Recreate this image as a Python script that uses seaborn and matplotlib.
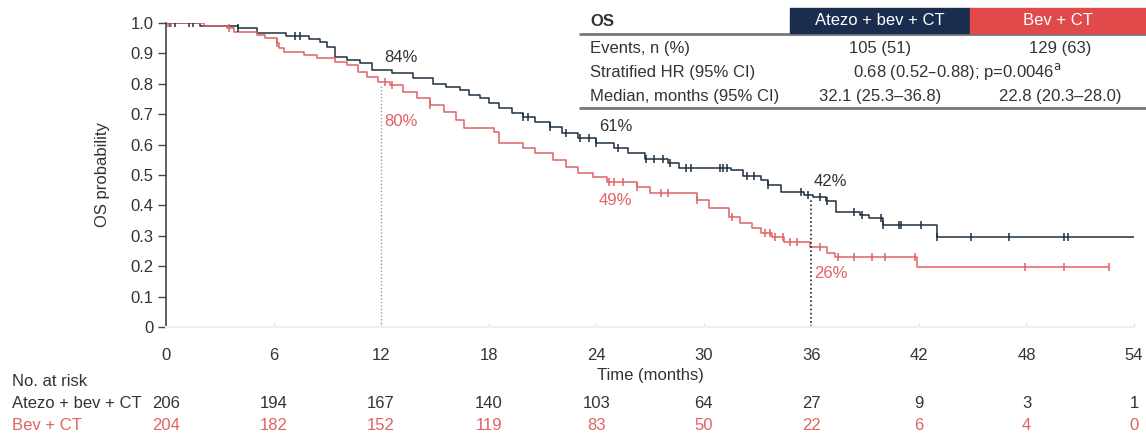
import numpy as np
import pandas as pd
import matplotlib
matplotlib.use("Agg")
import matplotlib.pyplot as plt
from matplotlib.patches import Rectangle
from matplotlib.lines import Line2D
import matplotlib.transforms as mtransforms
import seaborn as sns

# ---- Kaplan-Meier step data (time in months, survival probability) ----
atezo_times = [0, 1.9, 4.0, 5.1, 6.7, 8.0, 8.6, 9.0, 9.4, 10.1, 10.8, 11.5, 12.6,
               13.8, 14.9, 15.6, 16.4, 16.9, 17.5, 18.0, 18.6, 19.3, 19.9, 20.6,
               21.4, 22.1, 23.0, 24.0, 25.0, 25.8, 26.7, 28.0, 28.6, 31.5, 32.2,
               33.2, 33.6, 34.3, 35.6, 36.1, 36.8, 37.4, 38.7, 39.2, 40.0, 43.0, 54.0]
atezo_surv = [1.0, 0.99, 0.983, 0.968, 0.957, 0.946, 0.938, 0.922, 0.889, 0.878,
              0.867, 0.845, 0.835, 0.818, 0.80, 0.79, 0.78, 0.763, 0.752, 0.737,
              0.72, 0.705, 0.692, 0.675, 0.657, 0.637, 0.621, 0.604, 0.588, 0.571,
              0.552, 0.538, 0.522, 0.516, 0.498, 0.484, 0.467, 0.445, 0.434, 0.427,
              0.415, 0.377, 0.368, 0.357, 0.336, 0.295, 0.295]
atezo_censor = [0.2, 0.5, 1.3, 1.5, 4.0, 7.2, 7.5, 19.9, 20.2, 21.4, 22.3, 23.1,
                23.6, 24.0, 25.2, 26.8, 27.2, 27.7, 28.1, 29.0, 29.3, 30.9, 31.1,
                31.3, 32.4, 32.8, 33.6, 35.4, 35.8, 36.5, 36.9, 38.4, 38.8, 39.9,
                40.0, 40.9, 41.0, 42.1, 43.0, 44.9, 47.0, 50.1, 50.3]

bev_times = [0, 2.1, 3.4, 3.8, 5.1, 5.5, 6.2, 6.3, 6.6, 7.7, 8.4, 9.4, 10.1, 10.7,
             11.2, 11.8, 12.5, 13.2, 14.0, 14.7, 15.5, 16.2, 16.6, 18.3, 18.6, 19.9,
             20.6, 21.6, 22.3, 23.0, 23.8, 24.6, 26.3, 27.0, 29.6, 30.3, 31.4, 32.0,
             32.7, 33.2, 33.8, 34.5, 35.9, 36.9, 37.3, 41.9, 52.6]
bev_surv = [1.0, 0.99, 0.983, 0.971, 0.96, 0.95, 0.933, 0.917, 0.906, 0.895, 0.884,
            0.873, 0.862, 0.84, 0.823, 0.805, 0.796, 0.774, 0.752, 0.73, 0.708,
            0.681, 0.654, 0.642, 0.604, 0.588, 0.571, 0.549, 0.527, 0.505, 0.494,
            0.478, 0.46, 0.44, 0.418, 0.39, 0.363, 0.342, 0.325, 0.309, 0.297,
            0.278, 0.264, 0.245, 0.231, 0.196, 0.196]
bev_censor = [0.1, 0.3, 3.5, 6.2, 12.2, 12.6, 14.7, 24.7, 25.0, 25.5, 26.3, 27.6,
              28.0, 29.6, 31.6, 33.4, 33.7, 34.0, 34.4, 34.8, 35.2, 36.5, 37.5,
              38.4, 39.4, 40.1, 41.8, 47.9, 50.1, 52.6]

# Landmark survival rates (%)
landmark_months = [12, 24, 36]
atezo_landmark = [84, 61, 42]
bev_landmark = [80, 49, 26]

# Numbers at risk
risk_months = [0, 6, 12, 18, 24, 30, 36, 42, 48, 54]
atezo_at_risk = [206, 194, 167, 140, 103, 64, 27, 9, 3, 1]
bev_at_risk = [204, 182, 152, 119, 83, 50, 22, 6, 4, 0]

arm_names = ["Atezo + bev + CT", "Bev + CT"]
row_labels = ["Events, n (%)", "Stratified HR (95% CI)", "Median, months (95% CI)"]
events_text = ["105 (51)", "129 (63)"]
hr_text = "0.68 (0.52\u20130.88); p=0.0046$^{\\mathrm{a}}$"
median_text = ["32.1 (25.3\u201336.8)", "22.8 (20.3\u201328.0)"]

x_ticks = [0, 6, 12, 18, 24, 30, 36, 42, 48, 54]
y_ticks = [0, 0.1, 0.2, 0.3, 0.4, 0.5, 0.6, 0.7, 0.8, 0.9, 1.0]
y_tick_labels = ["0", "0.1", "0.2", "0.3", "0.4", "0.5", "0.6", "0.7", "0.8", "0.9", "1.0"]

# ---- styling ----
sns.set_theme(style="white")
plt.rcParams["font.family"] = ["Liberation Sans Narrow", "Liberation Sans", "DejaVu Sans"]

NAVY = "#1b2d4f"
LINE_BLUE = "#1f2f3f"
RED = "#e04a4a"
LINE_RED = "#e06262"
TXT = "#333333"
FS = 12

fig = plt.figure(figsize=(11.46, 4.37), dpi=100)
ax = fig.add_axes([166 / 1146, 1 - 327 / 437, 968 / 1146, 304 / 437])


def step_value(times, surv, t):
    idx = np.searchsorted(np.asarray(times), np.asarray(t), side="right") - 1
    return np.asarray(surv)[idx]


curves = [
    (atezo_times, atezo_surv, atezo_censor, LINE_BLUE),
    (bev_times, bev_surv, bev_censor, LINE_RED),
]
for times, surv, cens, col in curves:
    df = pd.DataFrame({"t": times, "s": surv})
    sns.lineplot(data=df, x="t", y="s", ax=ax, drawstyle="steps-post",
                 estimator=None, sort=False, color=col, linewidth=1.1)
    cdf = pd.DataFrame({"t": cens, "s": step_value(times, surv, cens)})
    sns.scatterplot(data=cdf, x="t", y="s", ax=ax, marker="|", s=38,
                    color=col, linewidth=1.1, zorder=3)

# Landmark reference lines
ax.plot([landmark_months[0]] * 2, [0, bev_landmark[0] / 100], ls=(0, (1, 1.5)),
        color="#999999", lw=1.0)
ax.plot([landmark_months[2]] * 2, [0, atezo_landmark[2] / 100], ls=(0, (1, 1.5)),
        color="#222222", lw=1.2)

# Landmark labels
atezo_offsets = [0.045, 0.05, 0.06]
bev_offsets = [-0.125, -0.075, -0.085]
for m, a, b, oa, ob in zip(landmark_months, atezo_landmark, bev_landmark,
                           atezo_offsets, bev_offsets):
    ax.text(m + 0.15, a / 100 + oa, f"{a}%", color=TXT, fontsize=FS, va="center", ha="left")
    ax.text(m + 0.15, b / 100 + ob, f"{b}%", color=LINE_RED, fontsize=FS, va="center", ha="left")

ax.set_xlim(0, 54)
ax.set_ylim(0, 1.0)
ax.set_xticks(x_ticks)
ax.set_xticklabels([str(v) for v in x_ticks])
ax.set_yticks(y_ticks)
ax.set_yticklabels(y_tick_labels)
ax.tick_params(axis="y", which="both", left=True, length=6, width=1.0,
               color="#444444", labelsize=FS, labelcolor=TXT, pad=3)
ax.tick_params(axis="x", which="both", bottom=True, length=3, width=0.8,
               color="#dddddd", labelsize=FS, labelcolor=TXT, pad=15, direction="in")
for side in ["top", "right"]:
    ax.spines[side].set_visible(False)
ax.spines["left"].set_color("#444444")
ax.spines["left"].set_linewidth(1.2)
ax.spines["bottom"].set_color("#eeeeee")
ax.spines["bottom"].set_linewidth(1.5)
ax.set_ylabel("OS probability", fontsize=FS, color=TXT, labelpad=15)
ax.set_xlabel("Time (months)", fontsize=FS, color=TXT, labelpad=4)
ax.grid(False)

# ---- numbers at risk ----
blend = mtransforms.blended_transform_factory(ax.transData, fig.transFigure)
risk_rows = [(404, arm_names[0], atezo_at_risk, TXT),
             (426, arm_names[1], bev_at_risk, LINE_RED)]
fig.text(12 / 1146, 1 - 382 / 437, "No. at risk", fontsize=FS, color=TXT, va="center")
for ypx, name, counts, col in risk_rows:
    fig.text(12 / 1146, 1 - ypx / 437, name, fontsize=FS, color=col, va="center")
    for m, n in zip(risk_months, counts):
        ax.text(m, 1 - ypx / 437, str(n), transform=blend, fontsize=FS, color=col,
                ha="center", va="center", clip_on=False)

# ---- summary table ----
def fx(px):
    return px / 1146


def fy(py):
    return 1 - py / 437


fig.patches.append(Rectangle((fx(790), fy(33)), fx(180), 25 / 437,
                             transform=fig.transFigure, color=NAVY, zorder=5))
fig.patches.append(Rectangle((fx(970), fy(33)), fx(176), 25 / 437,
                             transform=fig.transFigure, color=RED, zorder=5))
fig.text(fx(880), fy(20.5), arm_names[0], color="white", fontsize=FS,
         ha="center", va="center", zorder=6)
fig.text(fx(1058), fy(20.5), arm_names[1], color="white", fontsize=FS,
         ha="center", va="center", zorder=6)
fig.text(fx(590), fy(21), "OS", color=TXT, fontsize=FS, fontweight="bold",
         ha="left", va="center")
for ypx in (33.5, 108):
    fig.add_artist(Line2D([fx(580), 1.0], [fy(ypx), fy(ypx)], transform=fig.transFigure,
                          color="#777777", lw=2.0))
row_y = [48, 72, 97]
for lbl, yy in zip(row_labels, row_y):
    fig.text(fx(590), fy(yy), lbl, color=TXT, fontsize=FS, ha="left", va="center")
fig.text(fx(880), fy(row_y[0]), events_text[0], color=TXT, fontsize=FS, ha="center", va="center")
fig.text(fx(1060), fy(row_y[0]), events_text[1], color=TXT, fontsize=FS, ha="center", va="center")
fig.text(fx(957), fy(row_y[1]), hr_text, color=TXT, fontsize=FS, ha="center", va="center")
fig.text(fx(880), fy(row_y[2]), median_text[0], color=TXT, fontsize=FS, ha="center", va="center")
fig.text(fx(1060), fy(row_y[2]), median_text[1], color=TXT, fontsize=FS, ha="center", va="center")

fig.savefig("out.png", dpi=100, facecolor="white")
